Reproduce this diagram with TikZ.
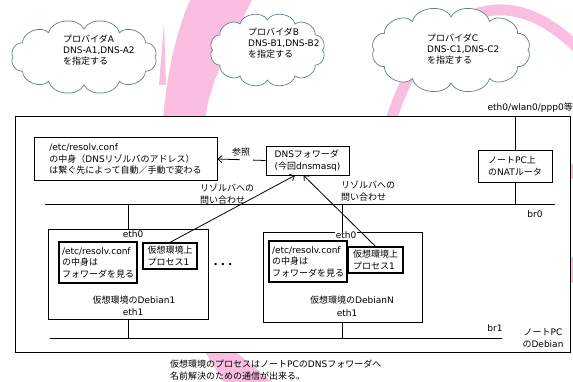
\documentclass[tikz,border=0pt]{standalone}
\usepackage{fontspec}
\setmainfont{DejaVu Sans}
\newfontfamily\jpfont{Noto Sans CJK JP}
% Japanese characters switch to the CJK family by themselves
\XeTeXinterchartokenstate=1
\chardef\jpclass=10
\newcount\jpcode
\jpcode="3000 \loop\XeTeXcharclass\jpcode=\jpclass \advance\jpcode by 1 \ifnum\jpcode<"3100 \repeat
\jpcode="4E00 \loop\XeTeXcharclass\jpcode=\jpclass \advance\jpcode by 1 \ifnum\jpcode<"A000 \repeat
\jpcode="FF00 \loop\XeTeXcharclass\jpcode=\jpclass \advance\jpcode by 1 \ifnum\jpcode<"FFF0 \repeat
\XeTeXinterchartoks 0 \jpclass = {\jpfont}
\XeTeXinterchartoks 4095 \jpclass = {\jpfont}
\XeTeXinterchartoks \jpclass 0 = {\rmfamily}
\XeTeXinterchartoks \jpclass 4095 = {\rmfamily}
\usetikzlibrary{positioning,arrows.meta,calc}
\definecolor{debpink}{RGB}{250,190,225}
\definecolor{cloudline}{RGB}{95,130,135}

\begin{document}
\begin{tikzpicture}[x=1pt, y=-1pt,
    font=\fontsize{9}{11.5}\selectfont,
    box/.style={draw, line width=0.8pt, align=left, inner sep=0pt},
    inbox/.style={box, line width=1.2pt},
    provider/.style={draw=cloudline, fill=white, line width=0.7pt},
    txt/.style={inner sep=0pt, align=left},
    cloudtxt/.style={txt, anchor=north west, font=\fontsize{9}{11}\selectfont},
    wire/.style={line width=0.8pt},
    >={Straight Barb[length=4pt,width=7pt]},
  ]
  \useasboundingbox (0,0) rectangle (573,382);

  % swirl in the background
  \fill[debpink] (190,0) -- (252,0) .. controls (232,40) and (210,80) .. (205,120)
    -- (163,120) .. controls (167,70) and (177,30) .. (190,0);
  \fill[debpink] (164,23) -- (166,85) -- (159,85) -- cycle;
  \fill[debpink] (205,352) -- (236,352) -- (272,382) -- (224,382) -- cycle;
  \draw[debpink, line width=11pt] (391,120) .. controls (420,30) and (470,8) .. (505,10)
    .. controls (535,12) and (560,30) .. (585,55);
  \fill[debpink] (571,164) rectangle (573,179);
  \fill[debpink] (571,257) rectangle (573,283);

  % providers
  \foreach \cx/\cy/\rx/\ry in {84/57/71/28, 267.5/50/55/30, 451/50/77/33}
    \filldraw[provider] ({\cx+\rx},\cy)
      \foreach \a in {30,60,...,360} { to[bend left=70] ({\cx+\rx*cos(\a)},{\cy+\ry*sin(\a)}) }
      -- cycle;
  \node[txt, anchor=east] (uplink) at (573,108) {eth0/wlan0/ppp0等};
  \node[cloudtxt] (txtA) at (63,35) {プロバイダA\\DNS-A1,DNS-A2\\を指定する};
  \node[cloudtxt] (txtB) at (248,28) {プロバイダB\\DNS-B1,DNS-B2\\を指定する};
  \node[cloudtxt] (txtC) at (427,34) {プロバイダC\\DNS-C1,DNS-C2\\を指定する};

  % host PC
  \node[box, fill=white, minimum width=555pt, minimum height=236pt] (host) at (292.5,234) {};

  \node[box, minimum width=183pt, minimum height=43pt] (resolv) at (125.5,159)
    {/etc/resolv.conf\\の中身（DNSリゾルバのアドレス）\\は繋ぐ先によって自動／手動で変わる};
  \node[box, minimum width=83pt, minimum height=29pt] (fwd) at (307.5,160.5)
    {DNSフォワーダ\\(今回dnsmasq)};
  \node[box, minimum width=74pt, minimum height=32pt] (nat) at (515,166)
    {ノートPC上\\のNATルータ};

  \coordinate (brA) at (45,204);
  \coordinate (brB) at (555,204);
  \coordinate (brC) at (50,338);
  \coordinate (brD) at (502,338);
  \draw[wire] (brA) -- (brB);
  \draw[wire] (brC) -- (brD);
  \node[txt] (br0) at (535,214) {br0};
  \node[txt] (br1) at (495,328) {br1};

  \draw[wire] (nat.north) -- (nat.north |- host.north);
  \draw[wire] (nat.south) -- (nat.south |- brA);

  % virtual machines
  \node[box, minimum width=160pt, minimum height=90pt] (vmA) at (128,274) {};
  \node[inbox, minimum width=78pt, minimum height=41pt] (resA) at (98,262.5)
    {/etc/resolv.conf\\の中身は\\フォワーダを見る};
  \node[inbox, minimum width=54pt, minimum height=26pt] (procA) at (170,256)
    {仮想環境上\\プロセス1};
  \node[txt] (ethA0) at (133,234) {eth0};
  \node[txt] (nameA) at (134,300) {仮想環境のDebian1};
  \node[txt] (ethA1) at (133,312) {eth1};

  \node[box, minimum width=159pt, minimum height=90pt] (vmN) at (342.5,277) {};
  \node[inbox, minimum width=78pt, minimum height=41pt] (resN) at (308,261.5)
    {/etc/resolv.conf\\の中身は\\フォワーダを見る};
  \node[inbox, minimum width=55pt, minimum height=26pt] (procN) at (375.5,260)
    {仮想環境上\\プロセス1};
  \node[txt, fill=white, inner sep=0.5pt] (ethN0) at (346,235) {eth0};
  \node[txt] (nameN) at (352,300) {仮想環境のDebianN};
  \node[txt] (ethN1) at (347,313) {eth1};

  \node[txt, font=\fontsize{8}{10}\selectfont] (dots) at (223,265) {• • •};

  \draw[wire] (vmA.north) -- (vmA.north |- brA);
  \draw[wire] (vmA.south) -- (vmA.south |- brC);
  \draw[wire] (vmN.north) -- (vmN.north |- brA);
  \draw[wire] (vmN.south) -- (vmN.south |- brC);

  % queries
  \draw[wire, ->] (fwd.west) -- (resolv.east)
    node[pos=0.4, fill=white, minimum width=13pt, minimum height=4pt, inner sep=0pt] (gap) {};
  \node[txt] (see) at (241,152) {参照};
  \draw[wire, ->] (procA.north) -- (fwd.-130);
  \draw[wire, ->] (procN.north) -- (fwd.-105);
  \node[txt, anchor=north west] (askA) at (200,184) {リゾルバへの\\問い合わせ};
  \node[txt, anchor=north west] (askN) at (341,181) {リゾルバへの\\問い合わせ};

  \node[txt, align=center] (notepc) at (543,338) {ノートPC\\のDebian};
  \node[txt, anchor=north west] (note) at (170,360)
    {仮想環境のプロセスはノートPCのDNSフォワーダへ\\名前解決のための通信が出来る。};
\end{tikzpicture}
\end{document}
